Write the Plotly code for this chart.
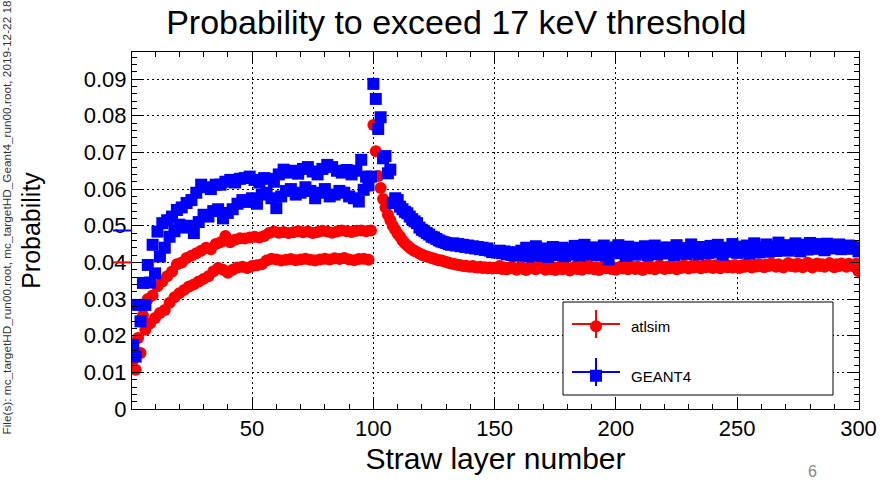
import plotly.graph_objects as go

# ---------------- data ----------------
layers = list(range(1, 301))

atlsim = [
    # 1-99 (odd/even layers alternate)
    0.0134, 0.0107, 0.0194, 0.0153, 0.0255, 0.0216, 0.0300, 0.0234, 0.0310, 0.0248,
    0.0335, 0.0262, 0.0348, 0.0270, 0.0362, 0.0290, 0.0375, 0.0305, 0.0395, 0.0316,
    0.0400, 0.0325, 0.0412, 0.0334, 0.0418, 0.0340, 0.0425, 0.0348, 0.0432, 0.0355,
    0.0440, 0.0362, 0.0436, 0.0375, 0.0450, 0.0385, 0.0455, 0.0380, 0.0472, 0.0372,
    0.0455, 0.0380, 0.0462, 0.0386, 0.0466, 0.0388, 0.0465, 0.0385, 0.0468, 0.0390,
    0.0470, 0.0392, 0.0468, 0.0395, 0.0472, 0.0405, 0.0480, 0.0410, 0.0484, 0.0408,
    0.0481, 0.0405, 0.0483, 0.0407, 0.0480, 0.0409, 0.0482, 0.0406, 0.0485, 0.0408,
    0.0482, 0.0410, 0.0484, 0.0407, 0.0480, 0.0405, 0.0483, 0.0408, 0.0486, 0.0410,
    0.0484, 0.0408, 0.0481, 0.0411, 0.0484, 0.0409, 0.0487, 0.0412, 0.0485, 0.0408,
    0.0483, 0.0406, 0.0486, 0.0409, 0.0487, 0.0410, 0.0485, 0.0407, 0.0487,
    # 100-130
    0.0775, 0.0703, 0.0636, 0.0603, 0.0573, 0.0550, 0.0530, 0.0515, 0.0500, 0.0489,
    0.0478, 0.0470, 0.0460, 0.0452, 0.0446, 0.0440, 0.0435, 0.0431, 0.0428, 0.0424,
    0.0421, 0.0418, 0.0416, 0.0414, 0.0412, 0.0410, 0.0408, 0.0406, 0.0405, 0.0403,
    0.0401,
    # 131-300
    0.0399, 0.0397, 0.0396, 0.0394, 0.0393, 0.0392, 0.0390, 0.0391, 0.0389, 0.0388,
    0.0390, 0.0387, 0.0386, 0.0388, 0.0385, 0.0387, 0.0384, 0.0386, 0.0383, 0.0385,
    0.0384, 0.0390, 0.0382, 0.0386, 0.0381, 0.0385, 0.0388, 0.0383, 0.0380, 0.0384,
    0.0386, 0.0382, 0.0379, 0.0385, 0.0388, 0.0383, 0.0381, 0.0386, 0.0393, 0.0384,
    0.0380, 0.0385, 0.0382, 0.0387, 0.0379, 0.0384, 0.0389, 0.0381, 0.0386, 0.0383,
    0.0378, 0.0385, 0.0388, 0.0382, 0.0386, 0.0380, 0.0384, 0.0392, 0.0383, 0.0387,
    0.0381, 0.0386, 0.0379, 0.0385, 0.0390, 0.0384, 0.0388, 0.0382, 0.0386, 0.0380,
    0.0385, 0.0389, 0.0383, 0.0387, 0.0381, 0.0391, 0.0386, 0.0382, 0.0388, 0.0384,
    0.0379, 0.0386, 0.0390, 0.0383, 0.0387, 0.0381, 0.0385, 0.0392, 0.0386, 0.0382,
    0.0388, 0.0384, 0.0390, 0.0386, 0.0381, 0.0389, 0.0385, 0.0392, 0.0387, 0.0383,
    0.0390, 0.0386, 0.0393, 0.0388, 0.0384, 0.0391, 0.0387, 0.0394, 0.0389, 0.0385,
    0.0392, 0.0388, 0.0384, 0.0391, 0.0395, 0.0387, 0.0390, 0.0386, 0.0393, 0.0389,
    0.0385, 0.0392, 0.0388, 0.0396, 0.0390, 0.0386, 0.0393, 0.0389, 0.0395, 0.0391,
    0.0387, 0.0394, 0.0390, 0.0397, 0.0392, 0.0388, 0.0395, 0.0391, 0.0386, 0.0393,
    0.0398, 0.0390, 0.0394, 0.0388, 0.0396, 0.0392, 0.0387, 0.0395, 0.0399, 0.0391,
    0.0386, 0.0394, 0.0397, 0.0390, 0.0395, 0.0388, 0.0393, 0.0398, 0.0391, 0.0387,
    0.0395, 0.0390, 0.0397, 0.0392, 0.0388, 0.0396, 0.0393, 0.0389, 0.0396, 0.0376,
]

geant4 = [
    # 1-99
    0.0175, 0.0143, 0.0284, 0.0239, 0.0344, 0.0284, 0.0393, 0.0345, 0.0448, 0.0370,
    0.0484, 0.0416, 0.0507, 0.0440, 0.0515, 0.0470, 0.0525, 0.0485, 0.0543, 0.0503,
    0.0550, 0.0495, 0.0562, 0.0500, 0.0570, 0.0480, 0.0590, 0.0510, 0.0612, 0.0530,
    0.0605, 0.0525, 0.0600, 0.0540, 0.0612, 0.0545, 0.0612, 0.0520, 0.0620, 0.0535,
    0.0625, 0.0545, 0.0618, 0.0560, 0.0628, 0.0570, 0.0630, 0.0565, 0.0634, 0.0575,
    0.0625, 0.0560, 0.0618, 0.0585, 0.0630, 0.0590, 0.0628, 0.0575, 0.0620, 0.0548,
    0.0640, 0.0580, 0.0653, 0.0595, 0.0645, 0.0600, 0.0650, 0.0585, 0.0642, 0.0590,
    0.0655, 0.0605, 0.0660, 0.0595, 0.0648, 0.0575, 0.0640, 0.0590, 0.0655, 0.0600,
    0.0666, 0.0580, 0.0660, 0.0585, 0.0650, 0.0595, 0.0645, 0.0590, 0.0652, 0.0580,
    0.0640, 0.0575, 0.0650, 0.0566, 0.0680, 0.0598, 0.0634, 0.0610, 0.0634,
    # 100-130
    0.0887, 0.0846, 0.0764, 0.0796, 0.0684, 0.0690, 0.0643, 0.0653, 0.0562, 0.0575,
    0.0570, 0.0552, 0.0545, 0.0538, 0.0534, 0.0525, 0.0518, 0.0512, 0.0507, 0.0495,
    0.0489, 0.0485, 0.0480, 0.0476, 0.0470, 0.0468, 0.0464, 0.0460, 0.0457, 0.0455,
    0.0453,
    # 131-300
    0.0450, 0.0448, 0.0452, 0.0446, 0.0450, 0.0444, 0.0448, 0.0442, 0.0446, 0.0440,
    0.0444, 0.0438, 0.0442, 0.0436, 0.0440, 0.0434, 0.0438, 0.0432, 0.0428, 0.0430,
    0.0427, 0.0432, 0.0425, 0.0430, 0.0422, 0.0428, 0.0420, 0.0426, 0.0418, 0.0424,
    0.0432, 0.0420, 0.0440, 0.0416, 0.0435, 0.0425, 0.0444, 0.0418, 0.0430, 0.0422,
    0.0438, 0.0415, 0.0428, 0.0442, 0.0420, 0.0432, 0.0424, 0.0440, 0.0417, 0.0430,
    0.0436, 0.0421, 0.0445, 0.0426, 0.0418, 0.0433, 0.0448, 0.0422, 0.0437, 0.0428,
    0.0441, 0.0419, 0.0432, 0.0425, 0.0446, 0.0423, 0.0408, 0.0436, 0.0428, 0.0441,
    0.0447, 0.0425, 0.0434, 0.0418, 0.0443, 0.0429, 0.0437, 0.0421, 0.0440, 0.0432,
    0.0426, 0.0444, 0.0419, 0.0435, 0.0428, 0.0446, 0.0422, 0.0438, 0.0430, 0.0424,
    0.0441, 0.0427, 0.0433, 0.0420, 0.0447, 0.0431, 0.0426, 0.0439, 0.0423, 0.0436,
    0.0449, 0.0428, 0.0434, 0.0422, 0.0442, 0.0430, 0.0437, 0.0425, 0.0445, 0.0432,
    0.0427, 0.0448, 0.0433, 0.0421, 0.0440, 0.0436, 0.0429, 0.0450, 0.0434, 0.0426,
    0.0443, 0.0437, 0.0430, 0.0446, 0.0424, 0.0439, 0.0452, 0.0433, 0.0427, 0.0441,
    0.0436, 0.0449, 0.0429, 0.0443, 0.0438, 0.0431, 0.0454, 0.0440, 0.0434, 0.0447,
    0.0432, 0.0445, 0.0439, 0.0452, 0.0436, 0.0430, 0.0448, 0.0441, 0.0435, 0.0453,
    0.0443, 0.0437, 0.0450, 0.0440, 0.0446, 0.0433, 0.0451, 0.0442, 0.0438, 0.0447,
    0.0441, 0.0449, 0.0436, 0.0444, 0.0439, 0.0446, 0.0442, 0.0437, 0.0441, 0.0430,
]

# marks drawn just left of the frame in the reference
edge_atlsim = [0.0400]
edge_geant4 = [0.0487]

assert len(atlsim) == 300 and len(geant4) == 300

# ---------------- layout geometry ----------------
W, H = 893, 483
L, R, T, B = 132, 34, 52, 74
PW, PH = W - L - R, H - T - B


def fx(px):
    return (px - L) / PW


def fy(py):
    return (H - B - py) / PH


RED = "#ff0000"
BLUE = "#0000ff"
FONT = "Liberation Sans, Arial, Helvetica, sans-serif"

fig = go.Figure()
fig.add_trace(go.Scatter(
    x=layers, y=atlsim, mode="markers", name="atlsim", legendgroup="a",
    marker=dict(symbol="circle", size=12, color=RED, line=dict(width=0)),
))
fig.add_trace(go.Scatter(
    x=layers, y=geant4, mode="markers", name="GEANT4", legendgroup="g",
    marker=dict(symbol="square", size=12, color=BLUE, line=dict(width=0)),
))

axis_common = dict(
    showline=True, linecolor="black", linewidth=1, mirror="ticks",
    ticks="inside", tickcolor="black", tickwidth=1, ticklen=10,
    showgrid=True, gridcolor="black", gridwidth=1, griddash="2px,3px",
    zeroline=False, tickfont=dict(family=FONT, size=22, color="black"),
)

fig.update_layout(
    width=W, height=H,
    margin=dict(l=L, r=R, t=T, b=B, autoexpand=False),
    paper_bgcolor="white", plot_bgcolor="white",
    font=dict(family=FONT, color="black"),
    title=dict(text="Probability to exceed 17 keV threshold",
               x=0.511, xanchor="center", y=1 - 22 / H, yanchor="middle",
               font=dict(family=FONT, size=34, color="black")),
    xaxis=dict(
        range=[0.5, 300.2], tick0=0, dtick=50,
        minor=dict(ticks="inside", ticklen=5, dtick=10, tickcolor="black", showgrid=False),
        title=dict(text="Straw layer number", standoff=7,
                   font=dict(family=FONT, size=30, color="black")),
        **axis_common,
    ),
    yaxis=dict(
        range=[0, 0.0974], tick0=0, dtick=0.01,
        minor=dict(ticks="inside", ticklen=5, dtick=0.002, tickcolor="black", showgrid=False),
        title=dict(text="Probability", standoff=36,
                   font=dict(family=FONT, size=25, color="black")),
        **axis_common,
    ),
    showlegend=True,
    legend=dict(
        x=fx(561), y=fy(310), xanchor="left", yanchor="top",
        bgcolor="rgba(0,0,0,0)", borderwidth=0,
        font=dict(family=FONT, size=15, color="black"),
        itemwidth=60, tracegroupgap=27, traceorder="grouped",
    ),
)

# legend frame and error-bar crosses (ROOT style)
shapes = [
    dict(type="rect", xref="paper", yref="paper",
         x0=fx(563), x1=fx(833), y0=fy(395), y1=fy(302),
         line=dict(color="black", width=1), fillcolor="white", layer="above"),
]
for color, cy in ((RED, 324), (BLUE, 372)):
    shapes.append(dict(type="line", xref="paper", yref="paper",
                       x0=fx(572), x1=fx(620), y0=fy(cy), y1=fy(cy),
                       line=dict(color=color, width=2), layer="above"))
    shapes.append(dict(type="line", xref="paper", yref="paper",
                       x0=fx(596), x1=fx(596), y0=fy(cy - 14), y1=fy(cy + 14),
                       line=dict(color=color, width=2), layer="above"))
# short marks left of the frame, placed on the y axis scale
for color, val in ((RED, edge_atlsim[0]), (BLUE, edge_geant4[0])):
    shapes.append(dict(type="line", xref="paper", yref="y",
                       x0=fx(113), x1=fx(132), y0=val, y1=val,
                       line=dict(color=color, width=2), layer="above"))
fig.update_layout(shapes=shapes)

fig.add_annotation(
    text="File(s): mc_targetHD_run00.root, mc_targetHD_Geant4_run00.root, 2019-12-22 18",
    xref="paper", yref="paper", x=fx(6), y=fy(437), xanchor="center", yanchor="bottom",
    textangle=-90, showarrow=False, font=dict(family=FONT, size=11.8, color="#333333"),
)
fig.add_annotation(
    text="6", xref="paper", yref="paper", x=fx(812), y=fy(482), xanchor="center",
    yanchor="bottom", showarrow=False, font=dict(family=FONT, size=16, color="#888888"),
)

fig.write_html("out.html")
